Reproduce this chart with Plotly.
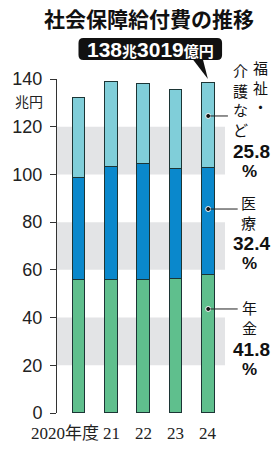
import plotly.graph_objects as go

# ---- data (兆円) ----
years = ["2020年度", "21", "22", "23", "24"]
pension = [55.6, 55.8, 55.8, 56.0, 57.8]      # 年金
medical = [42.8, 47.2, 48.6, 46.1, 44.8]      # 医療
welfare = [33.8, 35.7, 33.4, 33.4, 35.7]      # 福祉・介護など
shares = ["41.8", "32.4", "25.8"]             # 2024 shares (%)
y_ticks = [0, 20, 40, 60, 80, 100, 120, 140]

# ---- layout constants (pixels) ----
W, H = 279, 450
L, R, T, B = 53, 54, 79, 37
PW, PH = W - L - R, H - T - B
XMIN, XMAX = -0.68, 4.52
YMAX = 140

def px2x(px):
    return (px - L) / PW

def px2y(py):
    return (H - B - py) / PH

def dx2px(x):
    return L + (x - XMIN) / (XMAX - XMIN) * PW

xs = list(range(len(years)))

C_PEN = "#5fbf8d"
C_MED = "#0a88cc"
C_WEL = "#80ced9"
EDGE = "#1c3535"
BAND = "#e3e4e6"
JP = "Noto Sans CJK JP"
NUM = "Liberation Sans, " + JP

fig = go.Figure()
for vals, col, name in [(pension, C_PEN, "年金"), (medical, C_MED, "医療"), (welfare, C_WEL, "福祉・介護など")]:
    fig.add_trace(go.Bar(x=xs, y=vals, name=name, width=0.39,
                         marker=dict(color=col, line=dict(color=EDGE, width=1)),
                         hoverinfo="skip"))

# small dots under each bar
fig.add_trace(go.Scatter(x=xs, y=[-2.2] * len(xs), mode="markers",
                         marker=dict(size=3, color="#222"), cliponaxis=False,
                         hoverinfo="skip"))

shapes = []
# gray bands
for lo in (20, 60, 100):
    shapes.append(dict(type="rect", xref="paper", yref="y", x0=0, x1=1, y0=lo, y1=lo + 20,
                       fillcolor=BAND, line=dict(width=0), layer="below"))

# callout box (rounded) and tail
bx0, bx1, by0, by1, r = 75, 222, 38, 60, 5
def P(px, py):
    return f"{px2x(px):.5f},{px2y(py):.5f}"
path = (f"M {P(bx0 + r, by0)} L {P(bx1 - r, by0)} Q {P(bx1, by0)} {P(bx1, by0 + r)} "
        f"L {P(bx1, by1 - r)} Q {P(bx1, by1)} {P(bx1 - r, by1)} "
        f"L {P(bx0 + r, by1)} Q {P(bx0, by1)} {P(bx0, by1 - r)} "
        f"L {P(bx0, by0 + r)} Q {P(bx0, by0)} {P(bx0 + r, by0)} Z")
shapes.append(dict(type="path", xref="paper", yref="paper", path=path,
                   fillcolor="#111", line=dict(width=0)))
tail = f"M {P(191, 58)} L {P(202, 58)} L {P(207.5, 79)} Z"
shapes.append(dict(type="path", xref="paper", yref="paper", path=tail,
                   fillcolor="#111", line=dict(width=0)))

# leader lines for the 2024 bar
bar5_px = dx2px(4)
leaders = [(124.5, 228), (85.5, 238), (43.6, 238)]
for yv, xend in leaders:
    ypx = H - B - yv / YMAX * PH
    shapes.append(dict(type="line", xref="paper", yref="paper",
                       x0=px2x(bar5_px), x1=px2x(xend), y0=px2y(ypx), y1=px2y(ypx),
                       line=dict(color="#222", width=1)))
fig.add_trace(go.Scatter(x=[4, 4, 4], y=[l[0] for l in leaders], mode="markers",
                         marker=dict(size=5, color="#111", line=dict(color="white", width=1)),
                         cliponaxis=False, hoverinfo="skip"))

ann = []
def A(text, px, py, size, bold=False, color="#111", family=JP, xanchor="center", yanchor="middle"):
    t = f"<b>{text}</b>" if bold else text
    ann.append(dict(text=t, x=px2x(px), y=px2y(py), xref="paper", yref="paper",
                    showarrow=False, xanchor=xanchor, yanchor=yanchor,
                    font=dict(size=size, color=color, family=family)))

# title
A("社会保障給付費の推移", 147, 18, 21, bold=True)
# callout text
ann.append(dict(text=("<b>138<span style='font-size:15px;font-family:Noto Sans CJK JP'>兆</span>3019"
                      "<span style='font-size:15px;font-family:Noto Sans CJK JP'>億円</span></b>"),
                x=px2x(149), y=px2y(49.5), xref="paper", yref="paper", showarrow=False,
                xanchor="center", yanchor="middle",
                font=dict(size=21, color="white", family=NUM)))
# unit
A("兆円", 24, 100.5, 14, color="#222")

# right-hand labels (vertical text)
VS = 15
A("<br>".join("福祉・"), 261, 87, VS)
A("<br>".join("介護など"), 241, 100, VS)
A(shares[2], 252, 151, 19, bold=True, family=NUM)
A("%", 250, 171, 17, bold=True, family=NUM)

A("<br>".join("医療"), 249, 212, VS)
A(shares[1], 252, 243.5, 19, bold=True, family=NUM)
A("%", 250, 263.5, 17, bold=True, family=NUM)

A("<br>".join("年金"), 250, 317, VS)
A(shares[0], 252, 349, 19, bold=True, family=NUM)
A("%", 250, 369, 17, bold=True, family=NUM)

# x labels
SERIF = "Liberation Serif, " + JP
ann.append(dict(text=years[0], x=px2x(98), y=px2y(433), xref="paper", yref="paper",
                showarrow=False, xanchor="right", yanchor="middle",
                font=dict(size=17, color="#222", family=SERIF)))
for i in range(1, len(years)):
    ann.append(dict(text=years[i], x=xs[i], y=px2y(433), xref="x", yref="paper",
                    showarrow=False, xanchor="center", yanchor="middle",
                    font=dict(size=17, color="#222", family=SERIF)))

fig.update_layout(
    width=W, height=H, margin=dict(l=L, r=R, t=T, b=B, pad=0),
    barmode="stack", showlegend=False, bargap=0,
    plot_bgcolor="white", paper_bgcolor="white",
    shapes=shapes, annotations=ann,
    xaxis=dict(range=[XMIN, XMAX], visible=False, fixedrange=True),
    yaxis=dict(range=[0, YMAX], tickvals=y_ticks, showgrid=False, zeroline=False,
               showline=True, linecolor="#333", linewidth=1,
               ticks="outside", ticklen=6, tickcolor="#333", tickwidth=1,
               ticklabelstandoff=4,
               tickfont=dict(size=18, color="#222", family="Liberation Sans"),
               fixedrange=True),
)

fig.write_html("out.html", config={"displayModeBar": False})
